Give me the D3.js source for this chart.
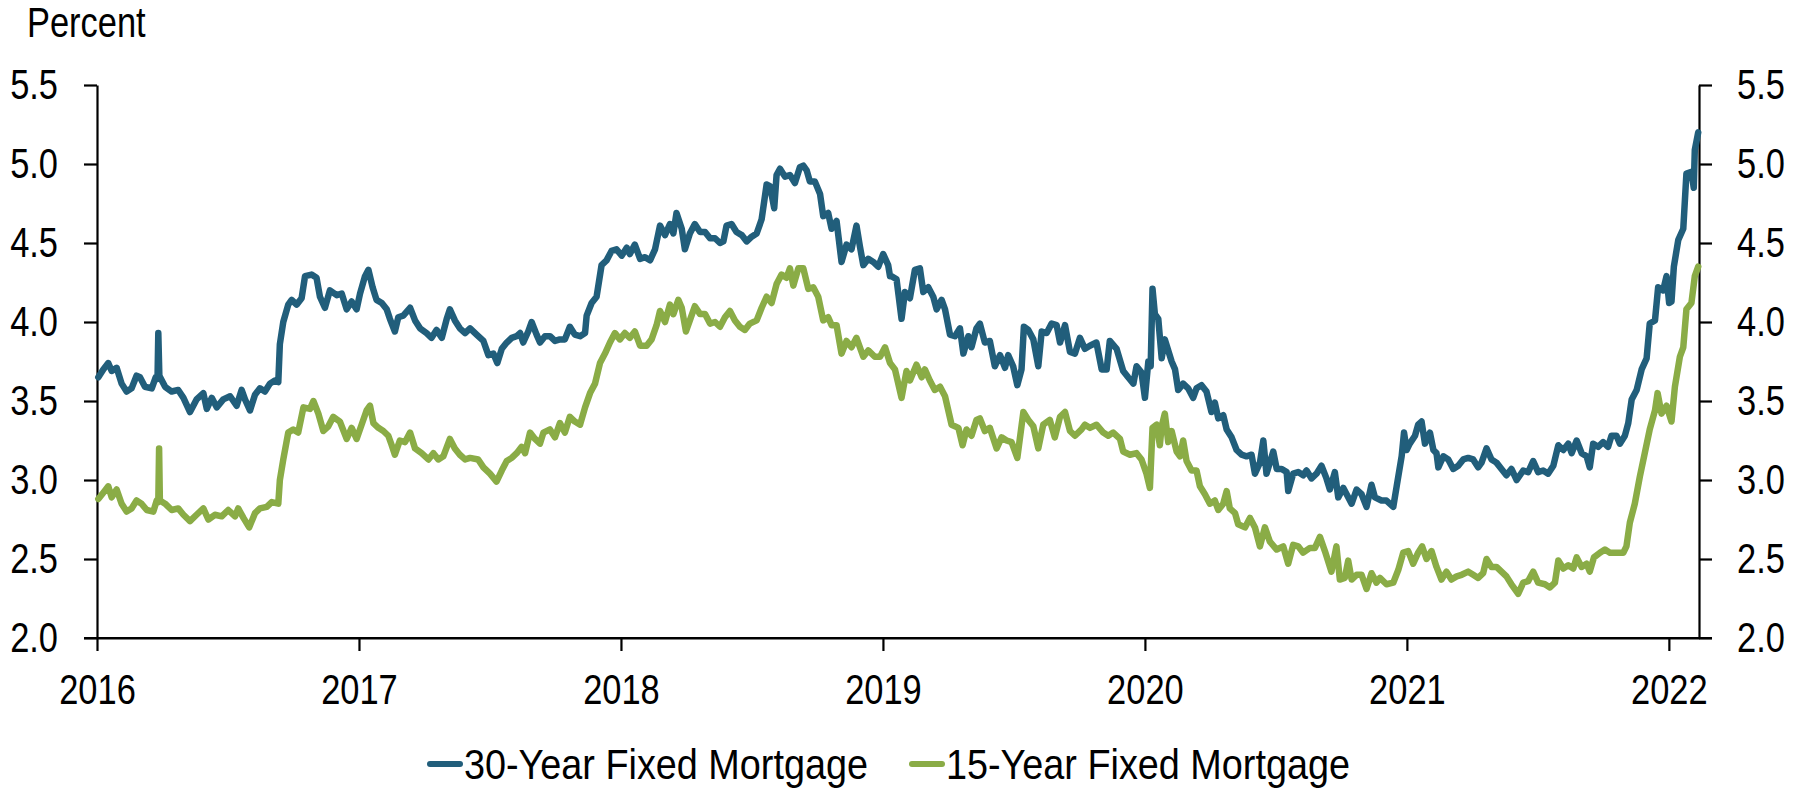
<!DOCTYPE html>
<html>
<head>
<meta charset="utf-8">
<script src="https://cdn.jsdelivr.net/npm/d3@7"></script>
<style>
  html, body { margin: 0; padding: 0; background: #fff; }
  svg text { font-family: "Liberation Sans", Arial, sans-serif; fill: #000; }
</style>
</head>
<body>
<svg id="chart" width="1806" height="791"></svg>
<script>
"use strict";

// time is in years after 1 Jan 2016, values in percent
var rate30 = [
  [0.005,3.65],[0.024,3.70],[0.043,3.74],[0.056,3.69],[0.075,3.71],[0.094,3.61],[0.113,3.56],[0.132,3.58],[0.151,3.66],[0.164,3.65],
  [0.183,3.59],[0.209,3.58],[0.224,3.65],[0.231,3.64],[0.234,3.93],[0.238,3.66],[0.260,3.59],[0.285,3.56],[0.310,3.57],[0.330,3.52],
  [0.355,3.43],[0.380,3.51],[0.406,3.55],[0.419,3.45],[0.438,3.52],[0.457,3.46],[0.482,3.51],[0.508,3.53],[0.533,3.47],[0.552,3.57],
  [0.565,3.51],[0.584,3.44],[0.603,3.54],[0.622,3.58],[0.641,3.56],[0.660,3.61],[0.679,3.63],[0.692,3.62],[0.698,3.86],[0.711,4.00],
  [0.730,4.11],[0.743,4.14],[0.762,4.11],[0.781,4.15],[0.794,4.29],[0.819,4.30],[0.838,4.28],[0.851,4.16],[0.870,4.09],[0.889,4.20],
  [0.915,4.17],[0.934,4.18],[0.953,4.08],[0.972,4.13],[0.991,4.08],[1.004,4.18],[1.023,4.29],[1.036,4.33],
  [1.052,4.22],[1.067,4.14],[1.087,4.12],[1.106,4.08],[1.118,4.02],[1.137,3.94],[1.150,4.03],[1.169,4.04],[1.195,4.09],[1.214,4.01],
  [1.233,3.96],[1.258,3.93],[1.277,3.90],[1.296,3.95],[1.316,3.90],[1.335,4.02],[1.347,4.08],[1.366,4.01],[1.385,3.96],[1.405,3.93],
  [1.424,3.96],[1.449,3.92],[1.475,3.88],[1.494,3.79],[1.513,3.80],[1.528,3.74],[1.545,3.83],[1.564,3.87],[1.583,3.90],[1.602,3.91],
  [1.615,3.93],[1.627,3.87],[1.646,3.94],[1.659,4.00],[1.678,3.92],[1.691,3.87],[1.710,3.91],[1.729,3.91],[1.748,3.88],[1.767,3.89],
  [1.786,3.89],[1.805,3.97],[1.824,3.92],[1.844,3.91],[1.863,3.93],[1.869,4.04],[1.888,4.12],[1.907,4.16],[1.926,4.36],[1.945,4.39],
  [1.964,4.45],[1.983,4.46],[2.003,4.42],[2.022,4.47],[2.034,4.43],
  [2.053,4.49],[2.073,4.40],[2.092,4.41],[2.111,4.39],[2.130,4.46],[2.149,4.61],[2.168,4.55],[2.187,4.62],[2.200,4.56],[2.212,4.69],
  [2.232,4.59],[2.244,4.46],[2.263,4.56],[2.282,4.62],[2.302,4.57],[2.321,4.57],[2.340,4.53],[2.359,4.53],[2.378,4.50],[2.391,4.51],
  [2.403,4.61],[2.422,4.62],[2.441,4.57],[2.461,4.55],[2.480,4.51],[2.499,4.54],[2.518,4.56],[2.537,4.65],[2.556,4.87],[2.569,4.86],
  [2.585,4.72],[2.594,4.93],[2.607,4.97],[2.626,4.92],[2.645,4.93],[2.664,4.88],[2.683,4.98],[2.696,4.99],[2.709,4.96],[2.721,4.89],
  [2.740,4.89],[2.760,4.81],[2.772,4.67],[2.791,4.69],[2.804,4.59],[2.823,4.64],[2.842,4.38],[2.861,4.49],[2.880,4.46],[2.899,4.61],
  [2.912,4.48],[2.925,4.36],[2.944,4.40],[2.963,4.38],[2.982,4.35],[3.001,4.43],[3.020,4.36],[3.027,4.29],
  [3.033,4.29],[3.052,4.27],[3.071,4.02],[3.084,4.19],[3.103,4.15],[3.122,4.33],[3.141,4.34],[3.154,4.19],[3.173,4.22],[3.192,4.16],
  [3.205,4.08],[3.224,4.14],[3.237,4.08],[3.256,3.92],[3.275,3.91],[3.294,3.96],[3.307,3.80],[3.326,3.91],[3.338,3.84],[3.357,3.96],
  [3.370,3.99],[3.389,3.87],[3.408,3.88],[3.427,3.72],[3.447,3.79],[3.466,3.71],[3.478,3.79],[3.497,3.72],[3.513,3.60],[3.529,3.70],
  [3.538,3.97],[3.555,3.95],[3.574,3.89],[3.593,3.72],[3.606,3.94],[3.625,3.93],[3.644,3.99],[3.663,3.98],[3.676,3.87],[3.695,3.98],
  [3.714,3.81],[3.733,3.80],[3.752,3.90],[3.771,3.83],[3.790,3.85],[3.815,3.87],[3.835,3.70],[3.854,3.70],[3.866,3.88],[3.892,3.83],
  [3.917,3.69],[3.936,3.65],[3.956,3.61],[3.968,3.72],[3.987,3.68],[4.000,3.52],[4.013,3.75],
  [4.022,3.72],[4.029,4.21],[4.038,4.05],[4.051,4.02],[4.064,3.77],[4.076,3.89],[4.089,3.82],[4.102,3.75],[4.115,3.70],[4.127,3.57],
  [4.146,3.61],[4.165,3.58],[4.184,3.52],[4.197,3.58],[4.216,3.60],[4.235,3.56],[4.254,3.43],[4.267,3.49],[4.280,3.39],[4.299,3.41],
  [4.312,3.32],[4.331,3.27],[4.350,3.19],[4.369,3.16],[4.388,3.15],[4.407,3.16],[4.420,3.04],[4.439,3.11],[4.452,3.25],[4.464,3.04],
  [4.477,3.11],[4.490,3.18],[4.503,3.07],[4.522,3.07],[4.541,3.05],[4.547,2.93],[4.566,3.04],[4.585,3.05],[4.604,3.03],[4.617,3.06],
  [4.636,3.01],[4.655,3.04],[4.674,3.09],[4.693,3.01],[4.706,2.94],[4.725,3.05],[4.738,2.89],[4.757,2.95],[4.770,2.91],[4.789,2.85],
  [4.808,2.94],[4.827,2.91],[4.846,2.83],[4.865,2.97],[4.878,2.89],[4.903,2.87],[4.922,2.87],[4.948,2.83],[4.961,2.96],[4.980,3.15],
  [4.989,3.30],[4.999,3.19],[5.011,3.23],
  [5.031,3.28],[5.043,3.35],[5.056,3.37],[5.069,3.23],[5.088,3.30],[5.101,3.19],[5.113,3.17],[5.120,3.08],[5.139,3.15],[5.158,3.13],
  [5.177,3.07],[5.196,3.09],[5.215,3.13],[5.234,3.14],[5.253,3.13],[5.272,3.08],[5.285,3.11],[5.304,3.20],[5.323,3.13],[5.342,3.11],
  [5.361,3.07],[5.380,3.03],[5.399,3.07],[5.419,3.00],[5.444,3.06],[5.463,3.05],[5.482,3.12],[5.501,3.05],[5.520,3.06],[5.539,3.04],
  [5.559,3.09],[5.578,3.22],[5.597,3.19],[5.616,3.23],[5.629,3.17],[5.648,3.25],[5.667,3.17],[5.686,3.15],[5.698,3.08],[5.711,3.23],
  [5.730,3.21],[5.749,3.24],[5.768,3.21],[5.781,3.28],[5.800,3.28],[5.813,3.23],[5.832,3.28],[5.845,3.36],[5.858,3.51],[5.877,3.57],
  [5.896,3.70],[5.915,3.77],[5.927,3.99],[5.947,4.01],[5.959,4.22],[5.978,4.20],[5.991,4.29],[6.001,4.12],[6.010,4.13],[6.019,4.35],
  [6.036,4.52],[6.055,4.59],[6.067,4.94],[6.086,4.95],[6.095,4.85],[6.099,5.09],[6.112,5.20]
];

var rate15 = [
  [0.005,2.88],[0.024,2.92],[0.043,2.96],[0.056,2.89],[0.075,2.94],[0.094,2.85],[0.113,2.80],[0.132,2.82],[0.151,2.87],[0.170,2.85],
  [0.190,2.81],[0.215,2.80],[0.228,2.87],[0.234,2.86],[0.237,3.20],[0.240,2.87],[0.260,2.85],[0.285,2.81],[0.310,2.82],[0.330,2.78],
  [0.355,2.74],[0.380,2.78],[0.406,2.82],[0.425,2.75],[0.450,2.78],[0.476,2.77],[0.501,2.81],[0.527,2.77],[0.539,2.82],[0.559,2.76],
  [0.581,2.70],[0.603,2.79],[0.622,2.82],[0.648,2.83],[0.667,2.86],[0.692,2.85],[0.698,3.00],[0.711,3.13],[0.730,3.30],[0.749,3.32],
  [0.768,3.30],[0.788,3.46],[0.813,3.45],[0.826,3.50],[0.845,3.42],[0.864,3.31],[0.883,3.34],[0.902,3.40],[0.927,3.37],[0.953,3.26],
  [0.972,3.33],[0.991,3.26],[1.010,3.35],[1.029,3.44],[1.042,3.47],
  [1.055,3.36],[1.074,3.33],[1.093,3.31],[1.112,3.28],[1.125,3.22],[1.137,3.16],[1.156,3.25],[1.176,3.24],[1.195,3.30],[1.214,3.20],
  [1.239,3.17],[1.265,3.13],[1.284,3.17],[1.303,3.13],[1.322,3.15],[1.347,3.26],[1.366,3.20],[1.385,3.16],[1.405,3.13],[1.424,3.14],
  [1.455,3.13],[1.475,3.08],[1.500,3.04],[1.525,2.99],[1.545,3.06],[1.564,3.12],[1.583,3.14],[1.602,3.17],[1.621,3.21],[1.634,3.17],
  [1.653,3.30],[1.672,3.26],[1.691,3.23],[1.704,3.30],[1.729,3.32],[1.748,3.27],[1.767,3.36],[1.786,3.30],[1.805,3.40],[1.824,3.37],
  [1.844,3.35],[1.863,3.46],[1.882,3.55],[1.901,3.61],[1.920,3.74],[1.939,3.80],[1.958,3.87],[1.977,3.93],[1.996,3.89],[2.015,3.93],
  [2.034,3.90],
  [2.053,3.94],[2.073,3.85],[2.098,3.85],[2.117,3.89],[2.136,3.98],[2.149,4.07],[2.168,4.00],[2.187,4.11],[2.200,4.05],[2.219,4.14],
  [2.232,4.09],[2.248,3.94],[2.263,4.01],[2.282,4.10],[2.302,4.05],[2.321,4.05],[2.340,3.99],[2.359,4.00],[2.378,3.97],[2.397,4.03],
  [2.416,4.07],[2.435,4.01],[2.454,3.97],[2.473,3.95],[2.492,3.99],[2.518,4.01],[2.537,4.09],[2.556,4.16],[2.575,4.12],[2.594,4.24],
  [2.613,4.30],[2.632,4.28],[2.645,4.34],[2.658,4.23],[2.677,4.34],[2.696,4.34],[2.715,4.21],[2.734,4.22],[2.753,4.16],[2.772,4.01],
  [2.791,4.03],[2.804,3.98],[2.823,3.98],[2.842,3.80],[2.861,3.88],[2.880,3.84],[2.899,3.90],[2.925,3.78],[2.944,3.82],[2.969,3.78],
  [2.989,3.78],[3.008,3.84],[3.027,3.74],
  [3.046,3.70],[3.071,3.52],[3.090,3.69],[3.103,3.63],[3.128,3.73],[3.148,3.65],[3.160,3.70],[3.179,3.63],[3.198,3.57],[3.218,3.59],
  [3.237,3.53],[3.262,3.35],[3.288,3.33],[3.304,3.22],[3.319,3.32],[3.338,3.28],[3.357,3.38],[3.370,3.39],[3.389,3.31],[3.408,3.33],
  [3.434,3.20],[3.453,3.27],[3.472,3.25],[3.491,3.24],[3.513,3.14],[3.536,3.43],[3.555,3.38],[3.574,3.34],[3.593,3.20],[3.612,3.35],
  [3.637,3.38],[3.656,3.27],[3.676,3.40],[3.695,3.43],[3.714,3.31],[3.733,3.28],[3.758,3.32],[3.771,3.35],[3.790,3.33],[3.815,3.35],
  [3.841,3.30],[3.860,3.28],[3.879,3.30],[3.905,3.26],[3.917,3.18],[3.943,3.16],[3.968,3.17],[3.987,3.13],[4.006,3.04],
  [4.019,2.95],[4.029,3.33],[4.045,3.35],[4.057,3.22],[4.064,3.34],[4.076,3.42],[4.089,3.24],[4.102,3.31],[4.121,3.18],[4.134,3.15],
  [4.146,3.25],[4.159,3.12],[4.178,3.06],[4.197,3.06],[4.210,2.96],[4.229,2.91],[4.248,2.85],[4.267,2.87],[4.280,2.81],[4.299,2.85],
  [4.312,2.93],[4.324,2.82],[4.344,2.79],[4.356,2.72],[4.382,2.70],[4.401,2.76],[4.420,2.70],[4.439,2.58],[4.458,2.70],[4.477,2.61],
  [4.503,2.56],[4.528,2.58],[4.547,2.47],[4.566,2.59],[4.585,2.58],[4.604,2.54],[4.630,2.57],[4.649,2.57],[4.668,2.64],[4.687,2.55],
  [4.712,2.42],[4.731,2.58],[4.744,2.37],[4.763,2.38],[4.776,2.49],[4.789,2.37],[4.808,2.40],[4.827,2.40],[4.846,2.31],[4.865,2.41],
  [4.884,2.35],[4.897,2.38],[4.922,2.34],[4.948,2.35],[4.967,2.43],[4.986,2.54],[5.005,2.55],
  [5.024,2.47],[5.043,2.54],[5.058,2.58],[5.075,2.50],[5.094,2.55],[5.113,2.45],[5.132,2.37],[5.151,2.42],[5.170,2.37],[5.190,2.39],
  [5.209,2.40],[5.234,2.42],[5.253,2.40],[5.272,2.38],[5.291,2.41],[5.304,2.50],[5.323,2.45],[5.342,2.45],[5.361,2.42],[5.380,2.39],
  [5.399,2.34],[5.425,2.28],[5.444,2.35],[5.463,2.36],[5.482,2.42],[5.501,2.35],[5.527,2.34],[5.546,2.32],[5.565,2.35],[5.578,2.49],
  [5.597,2.44],[5.616,2.46],[5.635,2.44],[5.648,2.51],[5.667,2.45],[5.686,2.47],[5.698,2.42],[5.714,2.51],[5.737,2.54],[5.756,2.56],
  [5.775,2.54],[5.800,2.54],[5.826,2.54],[5.838,2.58],[5.851,2.73],[5.870,2.85],[5.889,3.02],[5.908,3.17],[5.927,3.32],[5.947,3.44],
  [5.957,3.55],[5.972,3.42],[5.991,3.47],[6.010,3.37],[6.023,3.59],[6.042,3.78],[6.055,3.84],[6.067,4.08],[6.086,4.12],[6.099,4.29],
  [6.112,4.35]
];

var startYear = 2016;
var endYear = 2022.115;
var yearTicks = [2016, 2017, 2018, 2019, 2020, 2021, 2022];
var valueTicks = [2.0, 2.5, 3.0, 3.5, 4.0, 4.5, 5.0, 5.5];

var seriesNames = ["30-Year Fixed Mortgage", "15-Year Fixed Mortgage"];
var seriesColors = ["#215e7b", "#8aac46"];

// plot box
var width = 1806, height = 791;
var margin = {left: 97, right: width - 1699, top: 85, bottom: height - 638};
var svg = d3.select("#chart");

var x = d3.scaleLinear()
    .domain([startYear, endYear])
    .range([margin.left, width - margin.right]);

var y = d3.scaleLinear()
    .domain([2.0, 5.5])
    .range([height - margin.bottom, margin.top]);

var fontSize = 42;

// the original uses a narrow face; squeeze the text horizontally around its anchor
function condense(sel, k) {
    sel.each(function() {
        var t = d3.select(this);
        var x0 = +t.attr("x") || 0;
        t.attr("x", x0 / k).attr("transform", "scale(" + k + ",1)");
    });
}

// axes
var yLeft = d3.axisLeft(y).tickValues(valueTicks).tickFormat(d3.format(".1f"))
    .tickSize(13).tickSizeOuter(0).tickPadding(26);
var yRight = d3.axisRight(y).tickValues(valueTicks).tickFormat(d3.format(".1f"))
    .tickSize(13).tickSizeOuter(0).tickPadding(25);
var xAxis = d3.axisBottom(x).tickValues(yearTicks).tickFormat(d3.format("d"))
    .tickSize(13).tickSizeOuter(0).tickPadding(23);

function styleAxis(g) {
    g.attr("font-family", null).attr("font-size", null);
    g.selectAll("path, line").attr("stroke", "#000").attr("stroke-width", 2.2);
    g.selectAll("text").attr("font-size", fontSize).attr("fill", "#000").call(condense, 0.82);
}

svg.append("g")
    .attr("transform", "translate(" + margin.left + ",0)")
    .call(yLeft).call(styleAxis);

svg.append("g")
    .attr("transform", "translate(" + (width - margin.right) + ",0)")
    .call(yRight).call(styleAxis);

svg.append("g")
    .attr("transform", "translate(0," + (height - margin.bottom) + ")")
    .call(xAxis).call(styleAxis);

// bottom axis line runs out to the ends of the side ticks
svg.append("line")
    .attr("x1", margin.left - 13).attr("x2", width - margin.right + 13)
    .attr("y1", y(2.0)).attr("y2", y(2.0))
    .attr("stroke", "#000").attr("stroke-width", 2.2);

// y axis title
svg.append("text")
    .attr("x", 27).attr("y", 37)
    .attr("font-size", fontSize)
    .text("Percent")
    .call(condense, 0.82);

// lines
var line = d3.line()
    .x(function(d) { return x(startYear + d[0]); })
    .y(function(d) { return y(d[1]); });

[rate30, rate15].forEach(function(series, i) {
    svg.append("path")
        .datum(series)
        .attr("fill", "none")
        .attr("stroke", seriesColors[i])
        .attr("stroke-width", 6.5)
        .attr("stroke-linejoin", "round")
        .attr("stroke-linecap", "round")
        .attr("d", line);
});

// legend
var legendX = [430, 912];
var legendY = 764;
seriesNames.forEach(function(name, i) {
    var g = svg.append("g").attr("transform", "translate(" + legendX[i] + "," + legendY + ")");
    g.append("line")
        .attr("x1", 0).attr("x2", 30).attr("y1", 0).attr("y2", 0)
        .attr("stroke", seriesColors[i]).attr("stroke-width", 6)
        .attr("stroke-linecap", "round");
    g.append("text")
        .attr("x", 34).attr("y", 15)
        .attr("font-size", fontSize)
        .text(name)
        .call(condense, 0.9);
});
</script>
</body>
</html>
